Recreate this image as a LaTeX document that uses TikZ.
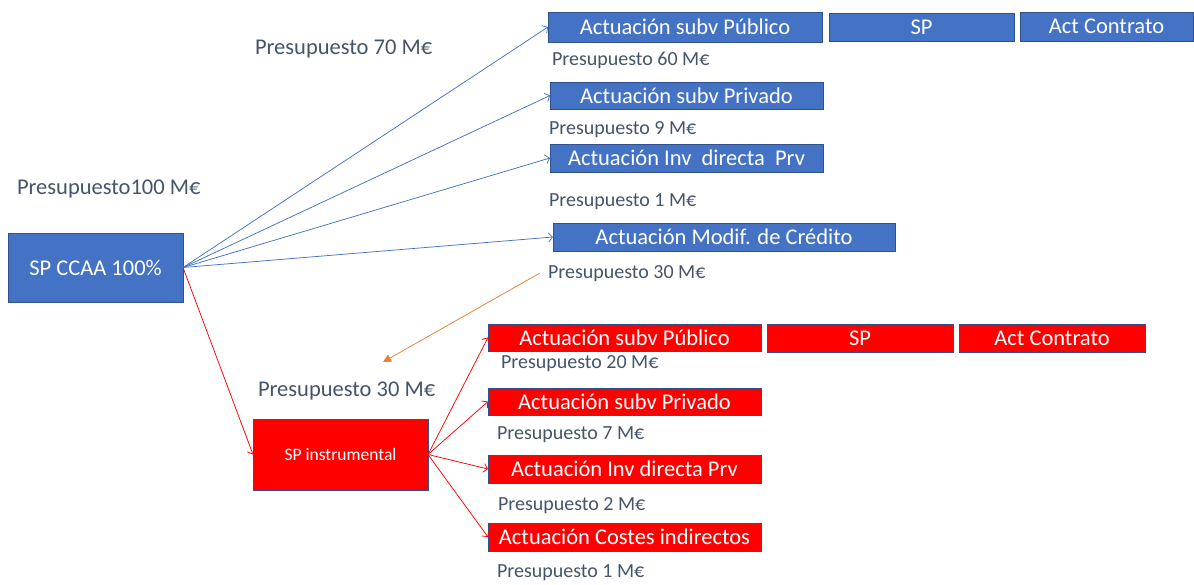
\documentclass[tikz,border=0pt]{standalone}
\usepackage{fontspec}
\setmainfont{Carlito}
\usetikzlibrary{arrows.meta}
\definecolor{ccaablue}{HTML}{4472C4}
\definecolor{edgeblue}{HTML}{2F528F}
\definecolor{labelgray}{HTML}{44546A}
\definecolor{instred}{HTML}{FF0000}
\definecolor{linkorange}{HTML}{ED7D31}
\begin{document}
\begin{tikzpicture}[x=1pt, y=-1pt,
  every path/.style={line width=.75pt},
  every node/.style={inner sep=0pt, outer sep=0pt},
  bigtext/.style={anchor=west, text=labelgray, font=\fontsize{22.5}{27}\selectfont},
  smalltext/.style={anchor=west, text=labelgray, font=\fontsize{20}{24}\selectfont},
  bluebox/.style={draw=edgeblue, fill=ccaablue, text=white, font=\fontsize{22.5}{27}\selectfont},
  redbox/.style={draw=edgeblue, fill=instred, text=white, font=\fontsize{22.5}{27}\selectfont},
  bluearrow/.style={draw=ccaablue, -{Straight Barb[length=4pt,width=9pt]}},
  redarrow/.style={draw=instred, -{Straight Barb[length=4pt,width=9pt]}},
  orangearrow/.style={draw=linkorange, -{Triangle[length=8pt,width=8pt]}}]
\useasboundingbox (0,0) rectangle (1194,584);
% public sector entity
\node[bluebox, minimum width=175pt, minimum height=69pt] (ccaa) at (95.5,267.5) {SP CCAA 100\%};
\node[bigtext] (p100) at (17,189) {Presupuesto100 M€};
\node[bigtext] (p70) at (255,49) {Presupuesto 70 M€};
% blue actions
\node[bluebox, minimum width=274pt, minimum height=30pt] (bpub) at (685,27) {Actuación subv Público};
\node[bluebox, minimum width=185pt, minimum height=28pt] (bsp) at (921.5,27) {SP};
\node[bluebox, minimum width=173pt, minimum height=29pt] (bcon) at (1106.5,26.5) {Act Contrato};
\node[smalltext] (p60) at (552,60) {Presupuesto 60 M€};
\node[bluebox, minimum width=273pt, minimum height=27pt] (bpriv) at (686.5,95.5) {Actuación subv Privado};
\node[smalltext] (p9) at (549,130) {Presupuesto 9 M€};
\node[bluebox, minimum width=273pt, minimum height=28pt] (binv) at (686.5,158) {Actuación Inv~~directa~~Prv};
\node[smalltext] (p1a) at (549,202) {Presupuesto 1 M€};
\node[bluebox, minimum width=342pt, minimum height=28pt] (bmod) at (724,237) {Actuación Modif. de Crédito};
\node[smalltext] (p30a) at (548,274) {Presupuesto 30 M€};
% instrumental entity
\node[bigtext] (p30b) at (258,391) {Presupuesto 30 M€};
\node[redbox, minimum width=175pt, minimum height=71pt, font=\fontsize{17.5}{21}\selectfont] (inst) at (340.5,454.5) {SP instrumental};
% red actions
\node[redbox, minimum width=273pt, minimum height=27pt] (rpub) at (624.5,337.5) {Actuación subv Público};
\node[redbox, minimum width=186pt, minimum height=28pt] (rsp) at (860,338) {SP};
\node[redbox, minimum width=186pt, minimum height=28pt] (rcon) at (1052,338) {Act Contrato};
\node[smalltext] (p20) at (501,364) {Presupuesto 20 M€};
\node[redbox, minimum width=273pt, minimum height=27pt] (rpriv) at (624.5,401.5) {Actuación subv Privado};
\node[smalltext] (p7) at (497,435) {Presupuesto 7 M€};
\node[redbox, minimum width=273pt, minimum height=28pt] (rinv) at (624.5,469) {Actuación Inv directa Prv};
\node[smalltext] (p2) at (498,506) {Presupuesto 2 M€};
\node[redbox, minimum width=273pt, minimum height=28pt] (rcost) at (624.5,537) {Actuación Costes indirectos};
\node[smalltext] (p1b) at (497,573) {Presupuesto 1 M€};
\coordinate (ostart) at (540,273);
\coordinate (oend) at (383,362);
% connectors
\draw[bluearrow] (ccaa.east) -- (bpub.west);
\draw[bluearrow] (ccaa.east) -- (bpriv.west);
\draw[bluearrow] (ccaa.east) -- (binv.west);
\draw[bluearrow] (ccaa.east) -- (bmod.west);
\draw[redarrow] (ccaa.east) -- (inst.west);
\draw[redarrow] (inst.east) -- (rpub.west);
\draw[redarrow] (inst.east) -- (rpriv.west);
\draw[redarrow] (inst.east) -- (rinv.west);
\draw[redarrow] (inst.east) -- (rcost.west);
\draw[orangearrow] (ostart) -- (oend);
\end{tikzpicture}
\end{document}
